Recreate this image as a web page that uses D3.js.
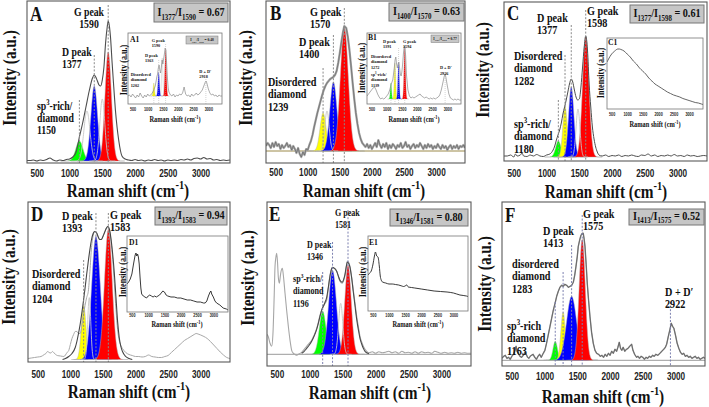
<!DOCTYPE html>
<html><head><meta charset="utf-8">
<script src="https://cdn.jsdelivr.net/npm/d3@7/dist/d3.min.js"></script>
<style>html,body{margin:0;padding:0;background:#fff}svg{display:block}</style>
</head><body>
<svg id="chart" width="709" height="407"></svg>
<script>
// ---------------- DATA ----------------
const X_DOMAIN = [350, 3450];
const TICKS = [500, 1000, 1500, 2000, 2500, 3000];
const TICK_LABELS = ["500", "1000", "1500", "2000", "2500", "3000"];
const X_TITLE = "Raman shift (cm^{-1})";
const Y_TITLE = "Intensity (a.u.)";

// main spectra: [Raman shift, intensity a.u.]
const specA = [[350,0.5],[400,0.5],[450,1],[500,0],[550,1],[600,0.5],[650,1.5],[700,3],[750,1],[800,0],[850,1],[900,0.5],[950,1.5],[1000,2],[1050,4],[1100,9],[1150,24],[1200,38],[1250,54],[1300,70],[1350,83],[1377,86],[1400,84],[1425,80],[1450,76],[1475,75],[1500,81],[1525,94],[1550,118],[1575,134],[1590,140],[1610,134],[1625,124],[1650,98],[1675,74],[1700,51],[1725,34],[1750,21],[1775,11],[1800,5],[1850,2],[1900,1],[1950,0.5],[2000,1.5],[2050,0.5],[2100,1],[2150,0],[2200,1],[2250,0.5],[2300,1.5],[2350,0.5],[2400,1],[2450,0],[2500,1],[2550,0.5],[2600,1],[2650,0.5],[2700,1.5],[2750,1],[2800,2],[2850,1],[2900,2.5],[2950,3],[3000,2],[3050,3.5],[3100,2],[3150,2.5],[3200,1],[3250,1.5],[3300,0.5],[3350,1],[3400,0.5],[3450,1]];
const specB = [[350,5],[375,8],[400,6],[425,3],[450,8],[475,4],[500,9],[525,5],[550,7],[575,2],[600,6],[625,3],[650,5],[675,8],[700,4],[725,6],[750,1],[775,5],[800,2],[825,-2],[850,3],[875,-3],[900,-6],[925,-1],[950,-4],[975,2],[1000,1],[1025,6],[1050,10],[1075,16],[1100,24],[1125,31],[1150,38],[1175,44],[1200,50],[1225,56],[1250,61],[1275,65],[1300,68],[1325,70],[1350,72],[1375,73],[1400,74],[1425,76],[1450,80],[1475,88],[1500,98],[1525,109],[1550,119],[1570,125],[1600,123],[1625,114],[1650,101],[1675,85],[1700,68],[1725,52],[1750,38],[1775,27],[1800,18],[1825,12],[1850,8],[1875,6],[1900,4],[1925,7],[1950,3],[1975,6],[2000,2],[2025,5],[2050,8],[2075,4],[2100,11],[2125,6],[2150,3],[2175,7],[2200,4],[2225,8],[2250,2],[2275,6],[2300,3],[2325,7],[2350,5],[2375,2],[2400,6],[2425,4],[2450,8],[2475,3],[2500,5],[2525,9],[2550,4],[2575,6],[2600,2],[2625,5],[2650,7],[2675,3],[2700,6],[2725,4],[2750,8],[2775,5],[2800,2],[2825,6],[2850,3],[2875,7],[2900,4],[2925,6],[2950,2],[2975,5],[3000,3],[3025,7],[3050,4],[3075,2],[3100,6],[3125,3],[3150,5],[3175,1],[3200,4],[3225,6],[3250,2],[3275,5],[3300,3],[3325,6],[3350,2],[3375,5],[3400,4],[3425,6],[3450,3]];
const specC = [[350,1],[400,1],[450,2],[500,0],[525,3],[550,1],[600,2],[625,4],[650,1],[700,0.5],[750,2],[800,1],[850,2.5],[900,1],[950,0.5],[1000,2],[1050,3],[1100,7],[1125,11],[1150,17],[1175,22],[1200,27],[1225,34],[1250,43],[1275,50],[1300,57],[1325,65],[1350,73],[1377,78],[1400,75],[1425,67],[1450,60],[1475,57],[1500,58],[1525,70],[1550,90],[1575,110],[1598,121],[1625,107],[1650,73],[1675,50],[1700,30],[1725,18],[1750,10],[1775,5],[1800,2],[1850,1],[1900,2],[1950,0.5],[2000,1.5],[2050,1],[2100,2],[2150,0.5],[2200,1.5],[2250,1],[2300,2],[2350,1],[2400,0.5],[2450,2],[2500,1.5],[2550,3],[2600,1],[2650,2],[2700,0.5],[2750,1.5],[2800,1],[2850,2],[2900,1],[2950,2.5],[3000,1],[3050,1.5],[3100,0.5],[3150,2],[3200,1],[3250,1.5],[3300,0.5],[3350,1],[3400,1.5],[3450,1]];
const specDraw = [[350,1],[400,1.5],[450,2],[500,2.5],[550,3],[600,5],[625,6],[650,8],[675,7],[700,6.5],[725,8],[750,6.5],[775,5],[800,4],[850,3.5],[900,3],[950,7],[975,9],[1000,15],[1025,21],[1050,25],[1075,28],[1100,28],[1125,26],[1150,26],[1175,33],[1200,44],[1225,54],[1250,62],[1275,68],[1300,88],[1325,112],[1350,124],[1375,128],[1400,127],[1425,123],[1450,120],[1475,120],[1500,123],[1525,127],[1550,131],[1575,133],[1600,129],[1625,118],[1650,100],[1675,76],[1700,50],[1725,30],[1750,19],[1775,14],[1800,11],[1850,7],[1900,5],[1950,4],[2000,3],[2050,3],[2100,2.5],[2150,3],[2200,4.5],[2250,3],[2300,2.5],[2350,2],[2400,2],[2450,3],[2500,4],[2550,7],[2600,10],[2650,13],[2700,16],[2750,19],[2800,21],[2850,23],[2900,25],[2930,26],[2960,25.5],[3000,24.5],[3050,23],[3100,21],[3150,18],[3200,14.5],[3250,11],[3300,7.5],[3350,4.5],[3400,2],[3450,1]];
const specDfit = [[880,0],[925,1],[975,3],[1025,6],[1075,12],[1100,18],[1125,26],[1150,35],[1175,46],[1200,58],[1225,71],[1250,85],[1275,98],[1300,110],[1325,120],[1350,126],[1375,128],[1400,127],[1425,123],[1450,120],[1475,120],[1500,123],[1525,127],[1550,131],[1575,133],[1600,130],[1625,120],[1650,105],[1675,86],[1700,62],[1725,38],[1750,22],[1775,13],[1800,8],[1850,3],[1900,1],[1950,0]];
const specEraw = [[350,20],[370,17.6],[396,11],[421,8],[440,20],[460,60],[472,88],[485,97],[497,101],[510,92],[522,77],[537,71],[558,81],[583,86],[600,78],[624,61],[650,43],[674,28],[700,14],[725,4],[750,1],[775,0],[801,-1],[840,0.5],[877,2],[915,5],[953,8],[990,11],[1029,14],[1065,19],[1105,26],[1130,32],[1155,39],[1180,44],[1206,48],[1232,51],[1257,54],[1282,66],[1307,79],[1325,84],[1342,86],[1375,86],[1409,83],[1435,78],[1459,73],[1494,71],[1515,74],[1535,79],[1555,87],[1570,93],[1590,92],[1611,88],[1635,78],[1662,64],[1690,50],[1713,38],[1740,27],[1763,18],[1790,12],[1814,8],[1840,5],[1865,3],[1900,1.5],[1950,2.5],[2000,1],[2050,2.5],[2100,1.5],[2150,2],[2200,3],[2250,1.5],[2300,2.5],[2350,1],[2400,3],[2450,1.5],[2500,2],[2550,1],[2600,2.5],[2650,1],[2700,2.5],[2750,1.5],[2800,2],[2850,1],[2900,3],[2950,2],[3000,1],[3050,2],[3100,1],[3150,1.5],[3200,1],[3250,2],[3300,1],[3350,1.5],[3400,1],[3450,1]];
const specEfit = [[877,1],[915,3],[953,6],[990,9],[1029,13],[1065,18],[1105,25],[1130,31],[1155,38],[1180,44],[1206,48],[1232,52],[1257,57],[1282,67],[1307,78],[1325,84],[1342,87],[1375,86],[1409,83],[1435,78],[1459,74],[1494,72],[1515,75],[1535,80],[1555,88],[1570,92],[1590,91],[1611,87],[1635,77],[1662,62],[1690,47],[1713,35],[1740,24],[1763,16],[1790,10],[1814,6],[1840,3],[1865,1.5],[1900,0.5]];
const specF = [[350,2],[375,4],[400,5],[425,2],[450,3],[475,1],[500,4],[525,6],[550,10],[565,14],[580,9],[600,7],[625,4],[650,3],[675,5],[700,8],[720,6],[740,3],[760,2],[780,4],[800,5],[825,6],[850,3],[875,1],[900,4],[925,6],[950,3],[980,7],[1005,10],[1030,17],[1055,25],[1083,34],[1108,42],[1133,50],[1160,57],[1185,64],[1210,69],[1235,73],[1260,75],[1286,74],[1310,76],[1338,75],[1363,73],[1388,74],[1415,75],[1439,78],[1460,85],[1480,94],[1500,104],[1515,114],[1535,120],[1556,125],[1575,127],[1591,127],[1605,121],[1617,114],[1635,96],[1652,77],[1672,60],[1693,44],[1718,28],[1744,17],[1770,10],[1796,7],[1825,6],[1850,4],[1875,5],[1900,3],[1925,6],[1950,4],[1975,7],[2000,5],[2025,9],[2050,7],[2075,11],[2100,9],[2120,13],[2141,18],[2160,12],[2180,10],[2200,13],[2225,9],[2250,11],[2275,12],[2300,14],[2330,16],[2350,10],[2375,6],[2406,3],[2425,4],[2450,2],[2475,4],[2500,3],[2525,1],[2550,3],[2575,2],[2600,4],[2625,3],[2650,5],[2675,4],[2700,6],[2730,5],[2762,7],[2790,9],[2820,11],[2845,13],[2864,16],[2890,24],[2915,31],[2935,37],[2955,34],[2975,32],[3000,25],[3025,17],[3050,12],[3075,8],[3100,6],[3125,7],[3150,4],[3175,5],[3200,3],[3225,4],[3250,2],[3275,3],[3300,4],[3325,2],[3350,3],[3375,1],[3400,2],[3425,3],[3450,2]];

// fitted components: [type, centre (cm-1), height (a.u.), FWHM (cm-1)]
const compA = [["sp3",1150,20,130],["D",1377,75,120],["G",1590,109,115],["o",1265,50,110],["o",1500,62,90]];
const compB = [["dis",1239,38,110],["D",1400,69,130],["G",1570,124,145],["o",1300,40,80]];
const compC = [["sp3",1180,16,95],["dis",1282,50,80],["D",1377,70,95],["G",1598,120,115],["o",1480,48,70]];
const compD = [["dis",1204,54,85],["D",1393,123,155],["G",1583,130,140],["o",1290,62,55]];
const compE = [["sp3",1196,43,120],["D",1346,84,140],["G",1581,89,115],["o",1470,51,75]];
const compF = [["sp3",1163,19,80],["dis",1283,48,80],["D",1413,64,180],["G",1575,121,110]];

const ratioA = "I_{1377}/I_{1590} = 0.67";
const ratioB = "I_{1400}/I_{1570} = 0.63";
const ratioC = "I_{1377}/I_{1598} = 0.61";
const ratioD = "I_{1393}/I_{1583} = 0.94";
const ratioE = "I_{1346}/I_{1581} = 0.80";
const ratioF = "I_{1413}/I_{1575} = 0.52";

const labelsA = [["G peak","1590"],["D peak","1377"],["sp^{3}-rich/","diamond","1150"]];
const labelsB = [["G peak","1570"],["D peak","1400"],["Disordered","diamond","1239"]];
const labelsC = [["G peak","1598"],["D peak","1377"],["Disordered","diamond","1282"],["sp^{3}-rich/","diamond","1180"]];
const labelsD = [["G peak","1583"],["D peak","1393"],["Disordered","diamond","1204"]];
const labelsE = [["G peak","1581"],["D peak","1346"],["sp^{3}-rich/","diamond","1196"]];
const labelsF = [["G peak","1575"],["D peak","1413"],["disordered","diamond","1283"],["sp^{3}-rich","diamond","1163"],["D + D\u2032","2922"]];
const marksA = [1590,1377,1150];
const marksB = [1570,1400,1239];
const marksC = [1598,1377,1282,1180];
const marksD = [1583,1393,1204];
const marksE = [1581,1346,1196];
const marksF = [1575,1413,1283,1163,2922];

// insets
const specA1 = [[350,8],[400,9],[450,7],[500,10],[550,8],[600,6],[650,9],[700,7],[750,11],[800,8],[850,6],[900,9],[950,7],[1000,10],[1050,8],[1100,9],[1150,11],[1200,14],[1250,18],[1300,27],[1325,30],[1350,36],[1375,39],[1400,34],[1425,31],[1450,37],[1475,44],[1500,40],[1525,45],[1550,50],[1575,56],[1600,54],[1625,40],[1650,26],[1675,16],[1700,12],[1750,9],[1800,8],[1850,10],[1900,7],[1950,9],[2000,8],[2050,10],[2100,9],[2150,11],[2200,17],[2250,10],[2300,8],[2350,9],[2400,7],[2450,10],[2500,8],[2550,9],[2600,11],[2650,9],[2700,10],[2750,12],[2800,14],[2850,18],[2900,22],[2925,23],[2950,21],[3000,15],[3050,11],[3100,9],[3150,10],[3200,8],[3250,9],[3300,7],[3350,9],[3400,8],[3450,8]];
const compA1 = [["dis",1202,13,50],["D",1363,24,60],["G",1590,47,60],["o",1480,38,50]];
const ratioA1 = "I_{1363}/I_{1590} = 0.48";
const labelsA1 = [["G peak","1590"],["D peak","1363"],["Disordered","diamond","1202"],["D + D\u2032","2918"]];
const marksA1 = [1590,1363,1202,2918];

const specB1 = [[350,8],[400,10],[450,12],[500,14],[550,16],[600,17],[650,14],[700,10],[750,7],[800,5],[850,6],[900,5],[950,6],[1000,8],[1050,10],[1100,14],[1150,20],[1200,24],[1250,36],[1275,44],[1300,47],[1325,40],[1350,36],[1375,40],[1400,42],[1425,36],[1450,30],[1475,28],[1500,32],[1525,40],[1550,50],[1575,57],[1600,58],[1625,48],[1650,30],[1700,14],[1750,8],[1800,6],[1850,7],[1900,6],[1950,7],[2000,8],[2050,9],[2100,10],[2150,8],[2200,7],[2250,6],[2300,7],[2350,6],[2400,5],[2450,6],[2500,5],[2550,6],[2600,5],[2650,6],[2700,7],[2750,9],[2800,14],[2850,21],[2900,28],[2925,30],[2950,27],[3000,18],[3050,10],[3100,6],[3150,5],[3200,4],[3250,5],[3300,4],[3350,5],[3400,4],[3450,4]];
const compB1 = [["sp3",1139,16,50],["dis",1272,36,55],["D",1391,37,55],["G",1594,52,60]];
const ratioB1 = "I_{1391}/I_{1594} = 0.77";
const labelsB1 = [["G peak","1594"],["D peak","1391"],["Disordered","diamond","1272"],["sp^{3}-rich/","diamond","1139"],["D + D\u2032","2926"]];
const marksB1 = [1594,1391,1272,1139,2926];

const specC1 = [[350,47],[400,50],[500,55],[600,58],[700,60],[750,60],[800,59.5],[900,58],[1000,55],[1100,52],[1200,48],[1300,45],[1400,41],[1500,38],[1600,35],[1700,31],[1800,28],[1900,25],[2000,23],[2100,21],[2200,19],[2300,17],[2400,15.5],[2500,14],[2600,13],[2700,12],[2800,10.5],[2900,9.5],[3000,8.5],[3100,7.5],[3200,6.5],[3300,6],[3400,5],[3450,4.5]];
const specD1 = [[350,28],[400,30],[450,33],[500,38],[550,48],[600,57],[625,59],[650,56],[675,58],[700,55],[725,48],[750,35],[775,24],[800,18],[850,16],[900,15],[950,14],[1000,16],[1050,17],[1100,16],[1150,15],[1200,16],[1250,15],[1300,16],[1350,17],[1400,19],[1450,21],[1500,20],[1550,17],[1600,16],[1700,15],[1800,15],[1900,14],[2000,14],[2100,13],[2200,12],[2300,12],[2400,11],[2500,10],[2600,10],[2700,9],[2750,9],[2800,11],[2850,16],[2900,20],[2925,21],[2950,18],[3000,15],[3050,11],[3100,9],[3200,7],[3300,4],[3400,3],[3450,2]];
const specE1 = [[350,36],[400,38],[450,40],[500,46],[550,55],[580,59],[620,55],[660,54],[700,45],[730,35],[760,31],[800,29],[900,28],[1000,27],[1100,27],[1200,26.5],[1300,26],[1400,25],[1450,24.5],[1500,25],[1550,26],[1600,24],[1700,23.5],[1800,23],[1900,22.5],[2000,22],[2200,21],[2400,20],[2600,19.5],[2800,19],[3000,18],[3200,16],[3400,15],[3450,14.5]];

// ---------------- LAYOUT / STYLE ----------------
const COLORS = {sp3:"#00ff00", dis:"#ffff00", D:"#0000ff", G:"#ff0000"};
const SERIF = "'Liberation Serif','Times New Roman',serif";
const SANS = "'Liberation Sans',Arial,sans-serif";

const PANELS = [
 {id:"A", L:{l:27,r:230,t:1,b:163,base:161,letter:[30,21],box:[154,3,74,19],yT:[9.5,78],xT:[128,197],tickY:177,fs:11.5,gap:12,
   lab:[[89,16,"middle"],[62,56],[37,110]],markTop:[5,55,100]},
  S:{dash:"#8a8a8a",spec:[{c:"#4d4d4d",w:1.1,m:1}]},
  D:{spec:[specA],comps:compA,ratio:ratioA,labels:labelsA,marks:marksA}},
 {id:"B", L:{l:266,r:465,t:1,b:163,base:151,letter:[270,20],box:[389,3,75,18],yT:[246,78],xT:[364,197],tickY:176,fs:12,gap:12.5,
   lab:[[310,16],[299,46],[268,86]],markTop:[8,35,68]},
  S:{dash:"#8a8a8a",baseLine:"#9c8a4a",spec:[{c:"#a3a3a3",w:2.2,m:0},{c:"#606060",w:0.6,m:0}]},
  D:{spec:[specB,specB],comps:compB,ratio:ratioB,labels:labelsB,marks:marksB}},
 {id:"C", L:{l:504,r:707,t:2,b:161,base:157,letter:[507,20],box:[630,5,74,18],yT:[483,70],xT:[606,198],tickY:177,fs:12,gap:12.5,
   lab:[[587,15],[537,22],[514,60],[514,128]],markTop:[10,25,55,100]},
  S:{dash:"#8a8a8a",spec:[{c:"#4d4d4d",w:1,m:1}]},
  D:{spec:[specC],comps:compC,ratio:ratioC,labels:labelsC,marks:marksC}},
 {id:"D", L:{l:28,r:230,t:202,b:362,base:359.5,letter:[31,221],box:[155,207,72,18],yT:[9,277],xT:[129,398],tickY:378,fs:12,gap:12.5,
   lab:[[110,219],[62,220],[32,278]],markTop:[213,213,260]},
  S:{dash:"#8a8a8a",spec:[{c:"#a8a8a8",w:1,m:1},{c:"#444",w:1.1,m:1}]},
  D:{spec:[specDraw,specDfit],comps:compD,ratio:ratioD,labels:labelsD,marks:marksD}},
 {id:"E", L:{l:267,r:471,t:202,b:366,base:354.3,letter:[269,221],box:[390,209,78,17],yT:[248,278],xT:[370,399],tickY:378,fs:9.5,gap:12.5,
   lab:[[335,216],[307,248],[293,282]],markTop:[210,242,272]},
  S:{dash:"#7c80b0",baseLine:"#9a9a9a",spec:[{c:"#a6a6a6",w:1.1,m:1},{c:"#4a4a4a",w:1.1,m:1}]},
  D:{spec:[specEraw,specEfit],comps:compE,ratio:ratioE,labels:labelsE,marks:marksE}},
 {id:"F", L:{l:502,r:705,t:202,b:366,base:360.3,letter:[505,222],box:[629,209,75,16],yT:[485,284],xT:[603,403],tickY:380,fs:12,gap:12.5,
   lab:[[583,218],[543,235],[512,268],[507,330],[665,296]],markTop:[215,245,272,302,302]},
  S:{dash:"#7c80b0",baseLine:"#9a9a9a",spec:[{c:"#8c8c8c",w:1.4,m:0},{c:"#555",w:0.6,m:0}]},
  D:{spec:[specF,specF],comps:compF,ratio:ratioF,labels:labelsF,marks:marksF}}
];

const INSETS = [
 {id:"A1", L:{l:128,r:222,t:33,b:104,base:104,letter:[130,42],box:[186,36,32,8],yT:[124,70],xT:[175,122],tickY:111.5,fs:5,gap:5.5,
   lab:[[151.7,41.5],[145,56.5],[130.7,76],[199.3,72.5]],markTop:[44,60,88,79]},
  S:{inset:true,dash:"#aaa",spec:[{c:"#8a8a8a",w:0.7,m:0}]},
  D:{spec:[specA1],comps:compA1,compBase:8,ratio:ratioA1,labels:labelsA1,marks:marksA1}},
 {id:"B1", L:{l:367,r:461,t:33,b:104,base:104,letter:[368,40],box:[431,35,28,7.5],yT:[362,68],xT:[414,122],tickY:111.5,fs:5,gap:5.5,
   lab:[[403,42.7],[383,42.7],[371,58],[371,76],[440,69.3]],markTop:[48,48,69,88,76]},
  S:{inset:true,dash:"#aaa",spec:[{c:"#8a8a8a",w:0.7,m:0}]},
  D:{spec:[specB1],comps:compB1,compBase:5,ratio:ratioB1,labels:labelsB1,marks:marksB1}},
 {id:"C1", L:{l:607,r:703,t:38,b:109,base:109,letter:[608,45],yT:[601,73],xT:[655,127],tickY:116.5},
  S:{inset:true,spec:[{c:"#555",w:0.9,m:1}]},
  D:{spec:[specC1],comps:[],labels:[],marks:[]}},
 {id:"D1", L:{l:127,r:228,t:236,b:312,base:312,letter:[129,244.5],yT:[123,272],xT:[177,327],tickY:317},
  S:{inset:true,spec:[{c:"#222",w:0.9,m:0}]},
  D:{spec:[specD1],comps:[],labels:[],marks:[]}},
 {id:"E1", L:{l:368,r:468,t:236,b:311,base:311,letter:[369,244.5],yT:[363,272],xT:[418,327],tickY:317},
  S:{inset:true,spec:[{c:"#222",w:0.9,m:1}]},
  D:{spec:[specE1],comps:[],labels:[],marks:[]}}
];

// ---------------- DRAW ----------------
const svg = d3.select("#chart");
const defs = svg.append("defs");
const TOKEN = /(_\{[^}]*\}|\^\{[^}]*\})/;

// one <text> element; several lines (tspans) with sub/superscripts
function txt(parent, x, y, lines, o = {}) {
  if (typeof lines === "string") lines = [lines];
  const fs = o.fs || 12, gap = o.gap || fs * 1.1;
  const g = parent.append("g").attr("transform",
    `translate(${x},${y})` + (o.rot ? ` rotate(${o.rot})` : "") + ` scale(${o.sx ?? 0.85},1)`);
  const t = g.append("text").attr("font-family", o.ff || SERIF).attr("font-weight", o.fw || "bold")
    .attr("font-size", fs).attr("fill", o.fill || "#111").attr("text-anchor", o.anchor || "start")
    .style("white-space", "pre");
  if (o.db) t.attr("dominant-baseline", o.db);
  let shift = 0;
  lines.forEach((line, j) => {
    const parts = line.split(TOKEN).filter(s => s !== "");
    parts.forEach((p, pi) => {
      let k = 0, s = p;
      if (p.startsWith("_{")) { k = 1; s = p.slice(2, -1); }
      else if (p.startsWith("^{")) { k = -1; s = p.slice(2, -1); }
      const target = k === 1 ? fs * 0.3 : k === -1 ? -fs * 0.42 : 0;
      let dy = target - shift;
      const ts = t.append("tspan").text(s);
      if (pi === 0) { ts.attr("x", 0); if (j > 0) dy += gap; }
      ts.attr("dy", dy);
      if (k) ts.attr("font-size", fs * 0.68);
      shift = target;
    });
  });
  return t;
}

function gaussPts(c, base) {
  const [, ctr, h, w] = c, pts = [];
  for (let v = ctr - 2.2 * w; v <= ctr + 2.2 * w; v += 3)
    pts.push([v, base + h * Math.exp(-4 * Math.LN2 * (v - ctr) * (v - ctr) / (w * w))]);
  return pts;
}

function drawPlot(P) {
  const {id, L, S, D} = P;
  const g = svg.append("g").attr("class", "plot-" + id);
  const ins = !!S.inset;
  if (ins) g.append("rect").attr("x", L.l).attr("y", L.t).attr("width", L.r - L.l).attr("height", L.b - L.t).attr("fill", "#fff");
  const x = d3.scaleLinear().domain(X_DOMAIN).range([L.l, L.r]);
  const y = d3.scaleLinear().domain([0, 100]).range([L.base, L.base - 100]);
  const cid = "clip-" + id;
  defs.append("clipPath").attr("id", cid).append("rect")
    .attr("x", L.l).attr("y", L.t).attr("width", L.r - L.l).attr("height", L.b - L.t);
  const pg = g.append("g").attr("clip-path", `url(#${cid})`);
  if (S.baseLine) pg.append("line").attr("x1", L.l).attr("x2", L.r).attr("y1", y(0)).attr("y2", y(0))
    .attr("stroke", S.baseLine).attr("stroke-width", 1);
  const cb = D.compBase || 0;
  const area = d3.area().x(p => x(p[0])).y0(y(cb)).y1(p => y(p[1]));
  const gline = d3.line().x(p => x(p[0])).y(p => y(p[1]));
  D.comps.filter(c => c[0] !== "o").forEach(c => {
    pg.append("path").attr("d", area(gaussPts(c, cb))).attr("fill", COLORS[c[0]])
      .attr("stroke", "#b0b0b0").attr("stroke-width", ins ? 0.3 : 0.5);
  });
  D.comps.filter(c => c[0] === "o").forEach(c => {
    pg.append("path").attr("d", gline(gaussPts(c, cb))).attr("fill", "none")
      .attr("stroke", "#c6c6c6").attr("stroke-width", ins ? 0.5 : 0.9);
  });
  D.spec.forEach((sp, i) => {
    const st = S.spec[i];
    const ln = d3.line().x(p => x(p[0])).y(p => y(p[1])).curve(st.m ? d3.curveMonotoneX : d3.curveLinear);
    pg.append("path").attr("d", ln(sp)).attr("fill", "none").attr("stroke", st.c)
      .attr("stroke-width", st.w).attr("stroke-linejoin", "round");
  });
  D.marks.forEach((m, i) => {
    g.append("line").attr("x1", x(m)).attr("x2", x(m)).attr("y1", L.markTop[i]).attr("y2", L.b)
      .attr("stroke", S.dash).attr("stroke-width", ins ? 0.5 : 1).attr("stroke-dasharray", ins ? "1,1" : "2,1.6");
  });
  g.append("rect").attr("x", L.l).attr("y", L.t).attr("width", L.r - L.l).attr("height", L.b - L.t)
    .attr("fill", "none").attr("stroke", ins ? "#777" : "#5a5a5a").attr("stroke-width", ins ? 0.8 : 1.1);
  // axis
  const ax = d3.axisBottom(x).tickValues(TICKS).tickFormat((d, i) => TICK_LABELS[i]).tickSize(0);
  const axg = g.append("g").attr("transform", `translate(0,${L.b})`).call(ax);
  axg.select(".domain").remove();
  axg.selectAll("text").attr("y", L.tickY - L.b).attr("dy", 0)
    .attr("font-family", SANS).attr("font-weight", "bold").attr("font-size", ins ? 4.6 : 10)
    .attr("fill", "#222").attr("transform", "scale(0.82,1)");
  // titles
  txt(g, L.xT[0], L.xT[1], X_TITLE, {fs: ins ? 7.5 : 18, anchor: "middle"});
  txt(g, L.yT[0], L.yT[1], Y_TITLE, {fs: ins ? 9.5 : 18, anchor: "middle", rot: -90, db: "central"});
  // letter
  txt(g, L.letter[0], L.letter[1], id, {fs: ins ? 9 : 20});
  // ratio box
  if (D.ratio) {
    const [bx, by, bw, bh] = L.box;
    g.append("rect").attr("x", bx).attr("y", by).attr("width", bw).attr("height", bh)
      .attr("fill", "#c6c6c6").attr("stroke", "#777").attr("stroke-width", ins ? 0.5 : 1);
    txt(g, bx + bw / 2, by + bh * 0.68, D.ratio, {fs: ins ? 4.2 : 12, anchor: "middle"});
  }
  // peak labels (one multi-line text each)
  D.labels.forEach((lines, i) => {
    const [lx, ly, anc] = L.lab[i];
    txt(g, lx, ly, lines, {fs: L.fs, gap: L.gap, anchor: anc || "start"});
  });
}

PANELS.forEach(drawPlot);
INSETS.forEach(drawPlot);
</script>
</body></html>
